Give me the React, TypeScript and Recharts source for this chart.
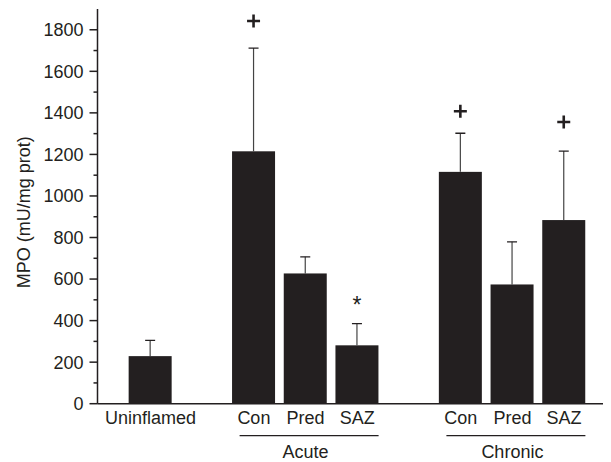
import React from 'react';
import { BarChart, Bar, XAxis, YAxis } from 'recharts';

// ---- data ----
const ids = ['uninflamed', 'gapA', 'acuteCon', 'acutePred', 'acuteSaz', 'gapB', 'chronicCon', 'chronicPred', 'chronicSaz'];
const tickLabels = ['Uninflamed', '', 'Con', 'Pred', 'SAZ', '', 'Con', 'Pred', 'SAZ'];
const groupLabels = ['', '', '', 'Acute', '', '', '', 'Chronic', ''];
const mpoValues: (number | null)[] = [229, null, 1215, 627, 281, null, 1116, 574, 884];
const sdValues: (number | null)[] = [76, null, 497, 80, 104, null, 186, 205, 332];
const marks = ['', '', '+', '', '*', '', '+', '', '+'];
const markLevels: (number | null)[] = [null, null, 1842, null, 499, null, 1408, null, 1356];
const yTicks = [0, 100, 200, 300, 400, 500, 600, 700, 800, 900, 1000, 1100, 1200, 1300, 1400, 1500, 1600, 1700, 1800];
const majorTicks = [0, 200, 400, 600, 800, 1000, 1200, 1400, 1600, 1800];
const yLabel = 'MPO (mU/mg prot)';

const data = ids.map((id, i) => ({
  id,
  mpo: mpoValues[i],
  sd: sdValues[i],
}));

const INK = '#231f20';
const FONT = '"Liberation Sans", Arial, Helvetica, sans-serif';

const YTick = (props: any) => {
  const { x, y, payload } = props;
  const major = majorTicks.includes(payload.value);
  return (
    <g>
      <line x1={x - (major ? 8 : 4)} x2={x} y1={y} y2={y} stroke={INK} strokeWidth={1.5} />
      {major && (
        <text x={x - 14} y={y} dy="0.355em" textAnchor="end" fill={INK} fontSize={18} fontFamily={FONT}>
          {payload.value}
        </text>
      )}
    </g>
  );
};

const XTick = (props: any) => {
  const { x, y, payload } = props;
  const i = ids.indexOf(payload.value);
  const label = tickLabels[i];
  const group = groupLabels[i];
  return (
    <g>
      {label && (
        <text x={x} y={y + 20.3} textAnchor="middle" fill={INK} fontSize={18} fontFamily={FONT}>
          {label}
        </text>
      )}
      {group && (
        <g>
          <line x1={x - 66} x2={x + 73} y1={y + 32} y2={y + 32} stroke={INK} strokeWidth={1.2} />
          <text x={x} y={y + 54.3} textAnchor="middle" fill={INK} fontSize={18} fontFamily={FONT}>
            {group}
          </text>
        </g>
      )}
    </g>
  );
};

const BarShape = (props: any) => {
  const { x, y, width, height, payload } = props;
  const i = ids.indexOf(payload?.id);
  const v = mpoValues[i];
  if (v == null || !height) return null;
  const ppu = height / v;
  const base = y + height;
  const cx = x + width / 2;
  const sd = sdValues[i];
  const errTop = sd != null ? y - sd * ppu : y;
  const mark = marks[i];
  const level = markLevels[i];
  let markEl: React.ReactNode = null;
  if (mark && level != null) {
    const cy = base - level * ppu;
    if (mark === '+') {
      markEl = (
        <path
          d={`M${cx - 6.5},${cy}H${cx + 6.5}M${cx},${cy - 6.5}V${cy + 6.5}`}
          stroke={INK}
          strokeWidth={2.6}
          fill="none"
        />
      );
    } else {
      markEl = (
        <text x={cx} y={cy + 12.5} textAnchor="middle" fill={INK} fontSize={23} fontFamily={FONT}>
          {mark}
        </text>
      );
    }
  }
  return (
    <g>
      {sd != null && (
        <g>
          <line x1={cx} x2={cx} y1={y} y2={errTop} stroke="#444" strokeWidth={1.2} />
          <line x1={cx - 5} x2={cx + 5} y1={errTop} y2={errTop} stroke={INK} strokeWidth={1.3} />
        </g>
      )}
      <rect x={x} y={y} width={width} height={height} fill={INK} />
      {markEl}
    </g>
  );
};

const YLabel = (props: any) => {
  const vb = props.viewBox || {};
  const cx = (vb.x ?? 0) + 22;
  const cy = (vb.y ?? 0) + (vb.height ?? 0) / 2 + 6;
  return (
    <text
      x={cx}
      y={cy}
      transform={`rotate(-90 ${cx} ${cy})`}
      textAnchor="middle"
      fill={INK}
      fontSize={18}
      fontFamily={FONT}
    >
      {yLabel}
    </text>
  );
};

export default function App() {
  return (
    <div style={{ width: 603, height: 454 }}>
      <BarChart
        width={603}
        height={454}
        data={data}
        margin={{ top: 1, right: 1, bottom: 0, left: 0 }}
        barSize={43}
      >
        <XAxis
          dataKey="id"
          type="category"
          interval={0}
          tickLine={false}
          tickSize={0}
          tickMargin={0}
          tick={<XTick />}
          height={58.3}
          padding={{ left: 27.15, right: 20.05 }}
          axisLine={{ stroke: INK, strokeWidth: 1.5 }}
        />
        <YAxis
          type="number"
          domain={[0, 1900]}
          ticks={yTicks}
          interval={0}
          allowDataOverflow
          tickLine={false}
          tickSize={0}
          tickMargin={0}
          tick={<YTick />}
          width={89.5}
          axisLine={{ stroke: INK, strokeWidth: 1.5 }}
          label={{ content: <YLabel /> }}
        />
        <Bar dataKey="mpo" fill={INK} shape={<BarShape />} isAnimationActive={false} />
      </BarChart>
    </div>
  );
}
